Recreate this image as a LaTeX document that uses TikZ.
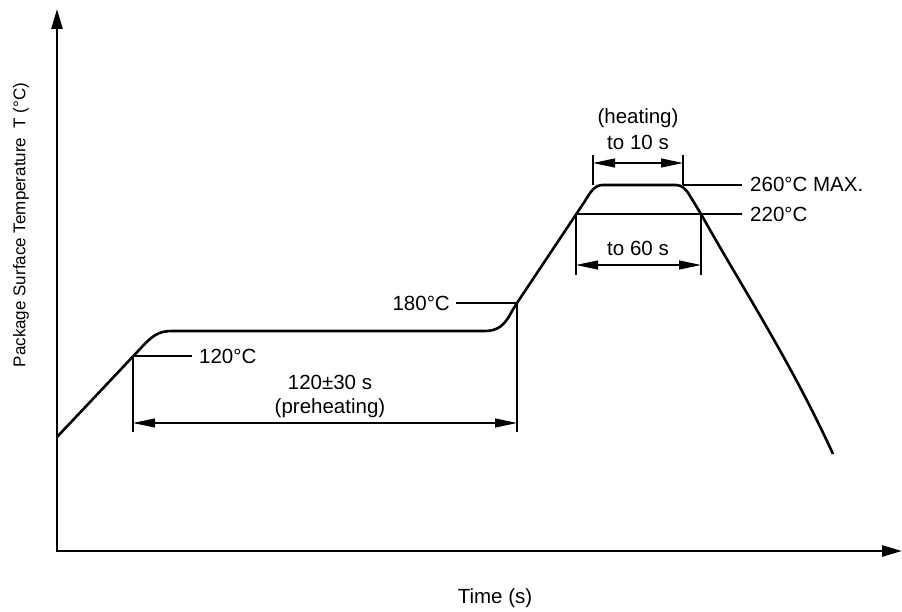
\documentclass[tikz,border=0pt]{standalone}
\usepackage{fontspec}
\setmainfont{Liberation Sans}
\usetikzlibrary{arrows.meta}
\begin{document}
\begin{tikzpicture}[x=1pt,y=-1pt,
  axisline/.style={line width=2.6pt,-{Triangle[length=20pt,width=11pt]}},
  profile/.style={line width=2.6pt,line join=round},
  thinline/.style={line width=1.1pt},
  dimarrow/.style={line width=1.1pt,{Triangle[length=22pt,width=9pt]}-{Triangle[length=22pt,width=9pt]}},
  lbl/.style={inner sep=0pt,font=\fontsize{20.5}{24}\selectfont},
  axlbl/.style={inner sep=0pt,font=\fontsize{17}{20}\selectfont}]
\useasboundingbox (0,0) rectangle (902,612);
% axes
\coordinate (O) at (57,551);
\coordinate (Ytip) at (57,9);
\coordinate (Xtip) at (902,551);
\draw[axisline] ([yshift=1.3pt]O) -- (Ytip);
\draw[axisline] ([xshift=-1.3pt]O) -- (Xtip);
% key points
\coordinate (S) at (57,437);
\coordinate (P120) at (133,356);
\coordinate (P180) at (517,303);
\coordinate (P220a) at (576,214);
\coordinate (P260a) at (593,185);
\coordinate (P260b) at (683,185);
\coordinate (P220b) at (701,214);
\coordinate (E) at (833,454);
% profile
\draw[profile] (S) -- (140,349) .. controls (152,336) and (158,331) .. (172,331)
  -- (485,331) .. controls (498,331) and (505,325) .. (512,311) -- (P180)
  -- (585,201) .. controls (591,191) and (595,185) .. (603,185)
  -- (676,185) .. controls (682,185) and (686,189) .. (690,196)
  -- (P220b) .. controls (740,284) and (790,360) .. (E);
% preheating dimension
\coordinate (L1) at (133,432);
\coordinate (R1) at (517,432);
\draw[thinline] (P120) -- (L1);
\draw[thinline] (P180) -- (R1);
\coordinate (A1) at (133,423);
\coordinate (B1) at (517,423);
\draw[dimarrow] (A1) -- (B1);
\node[lbl] (t12030) at (330,382) {120±30 s};
\node[lbl] (tpre) at (330,408) {(preheating)};
% 120 leader
\coordinate (L120) at (192,356);
\draw[thinline] (P120) -- (L120);
\node[lbl,anchor=west] (t120) at (199,356) {120°C};
% 180 leader
\coordinate (L180) at (456,303);
\draw[thinline] (L180) -- (P180);
\node[lbl,anchor=east] (t180) at (450,303) {180°C};
% heating dimension
\coordinate (H1) at (593,155);
\coordinate (H2) at (683,155);
\draw[thinline] (H1) -- (P260a);
\draw[thinline] (H2) -- (P260b);
\coordinate (HA) at (593,163);
\coordinate (HB) at (683,163);
\draw[dimarrow] (HA) -- (HB);
\node[lbl] (theat) at (638,118) {(heating)};
\node[lbl] (tto10) at (638,142) {to 10 s};
% 220 / 260 leaders
\coordinate (L260) at (742,185);
\coordinate (L220) at (742,214);
\draw[thinline] (P260b) -- (L260);
\draw[thinline] (P220a) -- (L220);
\node[lbl,anchor=west] (t260) at (750,184) {260°C MAX.};
\node[lbl,anchor=west] (t220) at (750,214) {220°C};
% 60 s dimension
\coordinate (D1) at (576,275);
\coordinate (D2) at (701,275);
\draw[thinline] (P220a) -- (D1);
\draw[thinline] (P220b) -- (D2);
\coordinate (DA) at (576,265);
\coordinate (DB) at (701,265);
\draw[dimarrow] (DA) -- (DB);
\node[lbl] (tto60) at (638,248) {to 60 s};
% axis labels
\node[lbl] (ttime) at (495,598) {Time (s)};
\node[axlbl,rotate=90] (ttemp) at (21,225) {Package Surface Temperature\ \ T (°C)};
\end{tikzpicture}
\end{document}
